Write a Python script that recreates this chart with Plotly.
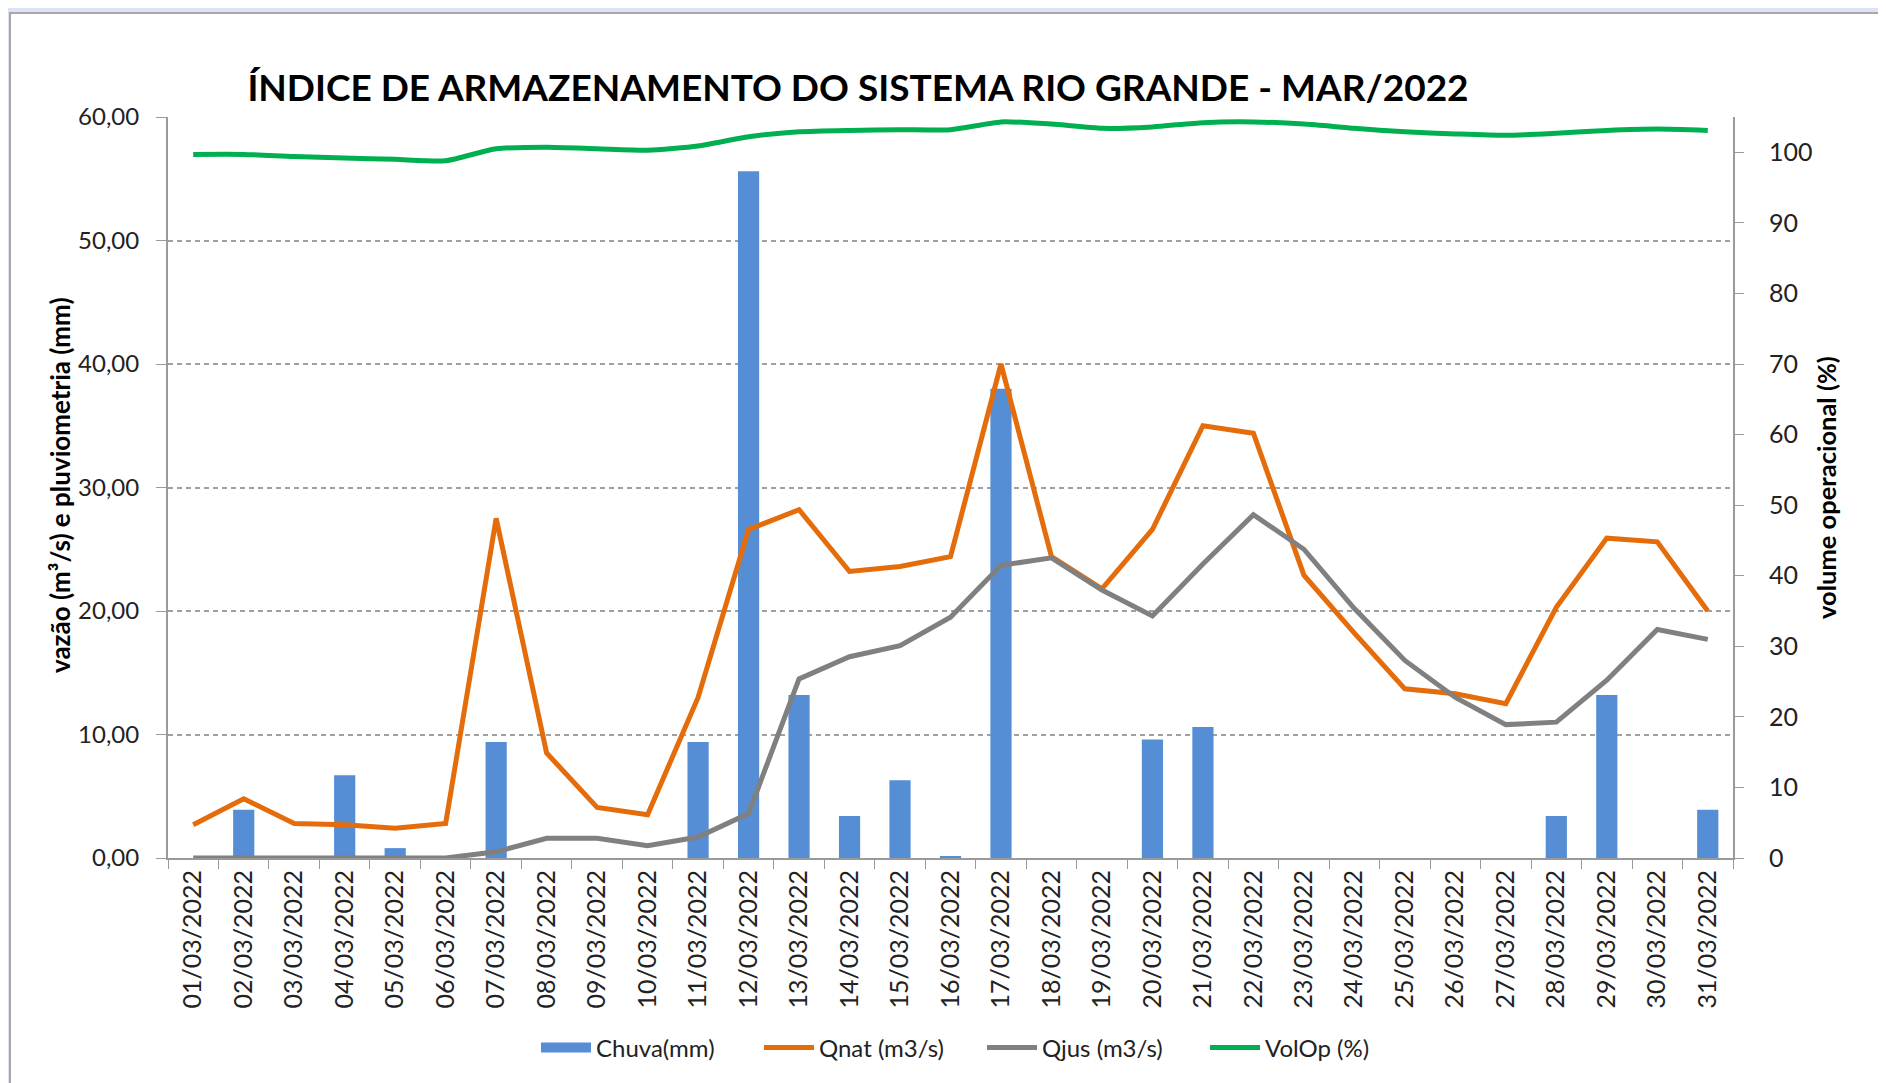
import plotly.graph_objects as go

dias = [f"{d:02d}/03/2022" for d in range(1, 32)]

chuva = [0, 3.9, 0, 6.7, 0.8, 0, 9.4, 0, 0, 0, 9.4, 55.6, 13.2, 3.4, 6.3, 0.1,
         38.0, 0, 0, 9.6, 10.6, 0, 0, 0, 0, 0, 0, 3.4, 13.2, 0, 3.9]
qnat = [2.7, 4.8, 2.8, 2.7, 2.4, 2.8, 27.5, 8.5, 4.1, 3.5, 13.0, 26.6, 28.2, 23.2,
        23.6, 24.4, 40.0, 24.4, 21.8, 26.6, 35.0, 34.4, 22.9, 18.2, 13.7, 13.3,
        12.5, 20.3, 25.9, 25.6, 20.0]
qjus = [0, 0, 0, 0, 0, 0, 0.5, 1.6, 1.6, 1.0, 1.7, 3.6, 14.5, 16.3, 17.2, 19.5,
        23.7, 24.3, 21.7, 19.6, 23.8, 27.8, 25.0, 20.2, 16.0, 13.0, 10.8, 11.0,
        14.4, 18.5, 17.7]
volop = [99.7, 99.7, 99.4, 99.2, 99.0, 98.8, 100.5, 100.7, 100.5, 100.3, 100.9,
         102.2, 102.9, 103.1, 103.2, 103.2, 104.3, 104.0, 103.4, 103.6, 104.2,
         104.3, 104.0, 103.4, 102.9, 102.6, 102.4, 102.7, 103.1, 103.3, 103.1]

left_ticks = [0, 10, 20, 30, 40, 50, 60]
left_labels = [f"{v:.2f}".replace(".", ",") for v in left_ticks]
right_ticks = [0, 10, 20, 30, 40, 50, 60, 70, 80, 90, 100]

FONT = "Lato, Roboto, sans-serif"
BLUE = "#558ed5"

# page offset (body margin) compensation
OFF = 8
PL, PT, PR, PB = 168, 117, 1733, 858  # plot area in page px
W, H = 1886 - OFF, 1083 - OFF
PW, PH = PR - PL, PB - PT


def px(xp):
    return (xp - PL) / PW


def py(yp):
    return (PB - yp) / PH


fig = go.Figure()
fig.add_trace(go.Bar(x=dias, y=chuva, name="Chuva(mm)", marker_color=BLUE,
                     marker_line_width=0, width=0.42, yaxis="y", showlegend=False))
fig.add_trace(go.Scatter(x=[None], y=[None], name="Chuva(mm)", mode="lines",
                         line=dict(color=BLUE, width=16), showlegend=True))
fig.add_trace(go.Scatter(x=dias, y=qnat, name="Qnat (m3/s)", mode="lines",
                         line=dict(color="#e46c0a", width=5), yaxis="y"))
fig.add_trace(go.Scatter(x=dias, y=qjus, name="Qjus (m3/s)", mode="lines",
                         line=dict(color="#808080", width=5), yaxis="y"))
fig.add_trace(go.Scatter(x=dias, y=volop, name="VolOp (%)", mode="lines",
                         line=dict(color="#00b050", width=5, shape="spline", smoothing=0.6),
                         yaxis="y2"))

fig.update_layout(
    width=W, height=H,
    paper_bgcolor="#dce3f8",
    plot_bgcolor="#e8e8e8",
    margin=dict(l=PL - OFF, r=W - (PR - OFF), t=PT - OFF, b=H - (PB - OFF), pad=0),
    font=dict(family=FONT, size=24, color="#222222"),
    title=dict(text="<b>ÍNDICE DE ARMAZENAMENTO DO SISTEMA RIO GRANDE - MAR/2022</b>",
               x=px(858), xref="paper", xanchor="center",
               y=1 - (88 - OFF) / H, yref="container", yanchor="middle",
               font=dict(family=FONT, size=37, color="#000000")),
    showlegend=True,
    legend=dict(orientation="h", x=px(982), xanchor="center",
                y=py(1048), yanchor="middle",
                font=dict(family=FONT, size=24, color="#222222"),
                bgcolor="rgba(0,0,0,0)", itemwidth=50, tracegroupgap=0,
                entrywidth=158, entrywidthmode="pixels"),
    xaxis=dict(
        type="category", tickangle=-90, ticks="outside", tickson="boundaries",
        ticklen=9, tickcolor="#9a9a9a", showline=True, linecolor="#9a9a9a",
        linewidth=2, showgrid=False, tickfont=dict(size=25, color="#222222"),
        range=[-0.5, 30.5],
    ),
    yaxis=dict(
        range=[0, 60], tickvals=left_ticks, ticktext=left_labels,
        showgrid=True, gridcolor="#a0a0a0", griddash="5px,4px", gridwidth=1.5,
        ticks="outside", ticklen=10, tickcolor="#9a9a9a", ticklabelstandoff=12,
        showline=True, linecolor="#9a9a9a", linewidth=2, zeroline=False,
        tickfont=dict(size=24, color="#222222"),
    ),
    yaxis2=dict(
        range=[0, 105], tickvals=right_ticks, overlaying="y", side="right",
        showgrid=False, ticks="outside", ticklen=9, tickcolor="#9a9a9a",
        ticklabelstandoff=20,
        showline=True, linecolor="#9a9a9a", linewidth=2, zeroline=False,
        tickfont=dict(size=25, color="#222222"),
    ),
)

# white panel
fig.add_shape(type="rect", xref="paper", yref="paper",
              x0=px(10), x1=px(1920), y0=py(1120), y1=py(13),
              fillcolor="white", line=dict(color="#a8a8a8", width=2), layer="below")

fig.add_annotation(text="<b>vazão (m³/s) e pluviometria (mm)</b>", xref="paper", yref="paper",
                   x=px(60), y=py(485), textangle=-90, showarrow=False,
                   font=dict(family=FONT, size=26, color="#000000"),
                   xanchor="center", yanchor="middle")
fig.add_annotation(text="<b>volume operacional (%)</b>", xref="paper", yref="paper",
                   x=px(1826), y=py(487), textangle=-90, showarrow=False,
                   font=dict(family=FONT, size=25.5, color="#000000"),
                   xanchor="center", yanchor="middle")

fig.write_html("out.html")
